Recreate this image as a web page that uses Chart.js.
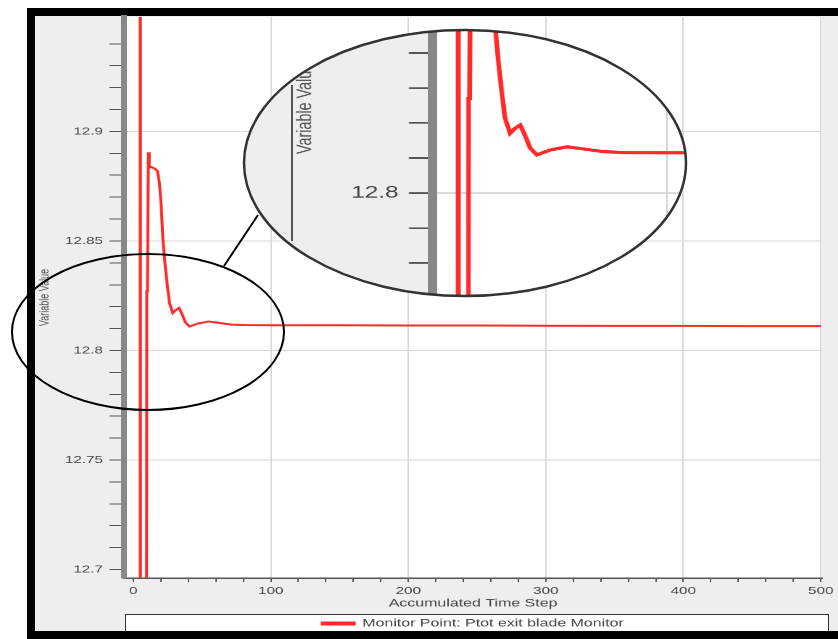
<!DOCTYPE html>
<html>
<head>
<meta charset="utf-8">
<script src="https://cdn.jsdelivr.net/npm/chart.js@4.4.1/dist/chart.umd.min.js"></script>
<style>
html,body{margin:0;padding:0;background:#fff;overflow:hidden;width:838px;height:639px;}
#stage{position:relative;width:838px;height:639px;overflow:hidden;background:#fff;}
.bar{position:absolute;background:#000;}
#panel{position:absolute;left:35px;top:16px;width:803px;height:615px;background:#eeeeee;}
#legendBox{position:absolute;left:125px;top:614px;width:704px;height:17px;box-sizing:border-box;border:1.5px solid #333;border-bottom:none;background:#fff;}
#mainWrap{position:absolute;left:0;top:0;width:578px;height:639px;transform-origin:0 0;transform:scaleX(1.45);}
#lens{position:absolute;left:244px;top:30px;width:442px;height:266px;overflow:hidden;clip-path:ellipse(221px 133px at 221px 133px);background:#eeeeee;}
#lensInner{position:absolute;left:-10.2px;top:-397.1px;width:578px;height:639px;transform-origin:0 0;transform:scale(2.3171,1.598);}
#lensLine{position:absolute;left:47px;top:55px;width:2px;height:156px;background:#555;}
#overlay{position:absolute;left:0;top:0;z-index:6;}
</style>
</head>
<body>
<div id="stage">
  <div id="panel"></div>
  <div class="bar" style="left:27px;top:8px;width:811px;height:8px;"></div>
  <div class="bar" style="left:27px;top:8px;width:8px;height:631px;"></div>
  <div class="bar" style="left:27px;top:631px;width:811px;height:8px;"></div>
  <div id="legendBox"></div>
  <div id="mainWrap"><canvas id="mainChart" width="578" height="639"></canvas></div>
  <div id="lens">
    <div id="lensInner"><canvas id="lensChart" width="578" height="639"></canvas></div>
    <div id="lensLine"></div>
  </div>
  <svg id="overlay" width="838" height="639">
    <ellipse cx="465" cy="163" rx="221" ry="133" fill="none" stroke="#333" stroke-width="2.5"/>
    <ellipse cx="148" cy="332" rx="136" ry="78" fill="none" stroke="#000" stroke-width="2"/>
    <line x1="224" y1="266" x2="258" y2="215" stroke="#000" stroke-width="2"/>
  </svg>
</div>
<script>
// ---- data ----
const steps = [1, 4.8, 5.2, 9.2, 9.8, 10.3, 11, 11.6, 13, 15, 17.5, 19, 20.3, 21.5, 23.2, 24.9, 26.4, 28.7, 31, 33.3, 35.5, 37.8, 40.9, 44, 46.9, 54.6, 62.2, 71.3, 80.3, 100, 150, 200, 250, 300, 350, 400, 450, 500];
const monitorValues = [13.40, 13.40, 12.30, 12.30, 12.827, 12.829, 12.8905, 12.8835, 12.8838, 12.8832, 12.882, 12.8765, 12.866, 12.851, 12.8386, 12.8289, 12.8214, 12.8171, 12.8185, 12.8194, 12.8165, 12.8129, 12.8109, 12.8116, 12.8123, 12.8132, 12.8126, 12.8118, 12.8116, 12.8115, 12.8115, 12.8114, 12.8114, 12.8113, 12.8112, 12.8112, 12.8111, 12.8111];
const xMajorTicks = [0, 100, 200, 300, 400, 500];
const yMajorTicks = [12.7, 12.75, 12.8, 12.85, 12.9];
const seriesLabel = 'Monitor Point: Ptot exit blade Monitor';
const xTitle = 'Accumulated Time Step';
const yTitle = 'Variable Value';

const FONT = '"Liberation Sans", Arial, sans-serif';
const isMajorY = v => yMajorTicks.some(t => Math.abs(t - v) < 1e-6);
const majorYLabel = v => { const t = yMajorTicks.find(t => Math.abs(t - v) < 1e-6); return t === undefined ? '' : String(t); };

const plotBg = {
  id: 'plotBg',
  beforeDraw(chart) {
    const {ctx, chartArea: a} = chart;
    ctx.save();
    ctx.fillStyle = '#ffffff';
    ctx.fillRect(a.left, a.top, a.right - a.left, a.bottom - a.top);
    ctx.restore();
  }
};

function makeConfig(dpr) {
  const points = steps.map((s, i) => ({x: s, y: monitorValues[i]}));
  return {
    type: 'line',
    data: {datasets: [{
      label: seriesLabel, data: points,
      borderColor: '#ff2b2b', backgroundColor: '#ff2b2b',
      borderWidth: 2, pointRadius: 0, tension: 0
    }]},
    options: {
      responsive: false, animation: false, devicePixelRatio: dpr,
      layout: {padding: {left: 24, top: 17, right: 11, bottom: 0}},
      plugins: {
        legend: {position: 'bottom', fullSize: false,
          labels: {boxWidth: 22, boxHeight: 2, padding: 8, color: '#444', font: {family: FONT, size: 11}}},
        tooltip: {enabled: false}
      },
      scales: {
        x: {
          type: 'linear', min: -6.78, max: 501,
          afterFit: s => { s.height = 32; },
          border: {color: '#555', width: 1.5},
          grid: {
            color: c => (c.tick && c.tick.value > 0 && xMajorTicks.includes(c.tick.value)) ? '#d8d8d8' : 'rgba(0,0,0,0)',
            tickColor: '#555', tickLength: 4, lineWidth: 1
          },
          ticks: {stepSize: 20, includeBounds: false, autoSkip: false, maxRotation: 0, padding: 3,
            color: '#444', font: {family: FONT, size: 10.5},
            callback: v => xMajorTicks.includes(v) ? String(v) : ''},
          title: {display: true, text: xTitle, color: '#444', font: {family: FONT, size: 11}, padding: {top: 0, bottom: 0}}
        },
        y: {
          type: 'linear', min: 12.69612, max: 12.95224,
          afterFit: s => { s.width = 61.5; },
          border: {color: '#888', width: 4},
          grid: {
            color: c => (c.tick && isMajorY(c.tick.value) && c.tick.value > 12.72) ? '#d8d8d8' : 'rgba(0,0,0,0)',
            tickColor: c => (c.tick && c.tick.value > 12.945) ? 'rgba(0,0,0,0)' : '#555',
            tickLength: 10, lineWidth: 1
          },
          ticks: {stepSize: 0.01, includeBounds: false, autoSkip: false, padding: 4.5,
            color: '#444', font: {family: FONT, size: 10.5},
            callback: v => majorYLabel(v)},
          title: {display: true, text: yTitle, color: '#555', font: {family: FONT, size: 9}, padding: {top: 1.6, bottom: 0}}
        }
      }
    },
    plugins: [plotBg]
  };
}

new Chart(document.getElementById('mainChart'), makeConfig(2));
new Chart(document.getElementById('lensChart'), makeConfig(3));
</script>
</body>
</html>
